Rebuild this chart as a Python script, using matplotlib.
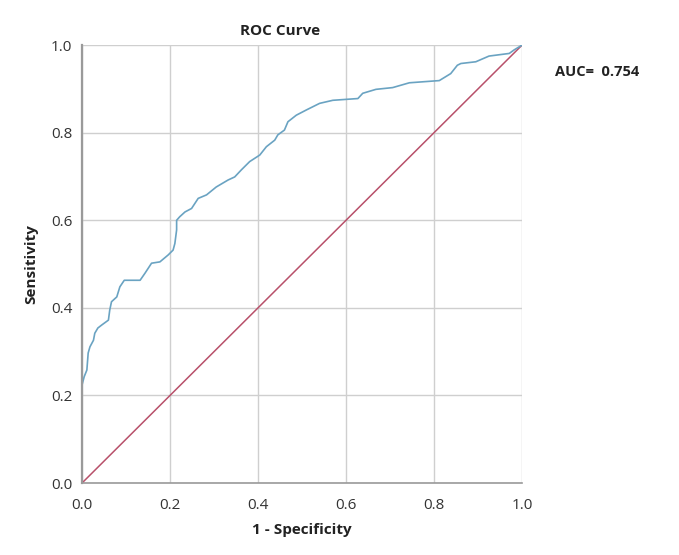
import numpy as np
import matplotlib
matplotlib.use('Agg')
import matplotlib.pyplot as plt

plt.rcParams['font.family'] = ['Open Sans', 'DejaVu Sans']

# ROC points (1 - specificity, sensitivity)
fpr = [0.0, 0.0, 0.005, 0.011, 0.014, 0.018, 0.026, 0.029, 0.036, 0.045,
       0.060, 0.063, 0.067, 0.079, 0.086, 0.096, 0.132, 0.143, 0.158, 0.177,
       0.196, 0.207, 0.211, 0.215, 0.215, 0.222, 0.234, 0.249, 0.264, 0.283,
       0.305, 0.332, 0.347, 0.362, 0.381, 0.404, 0.419, 0.438, 0.445, 0.460,
       0.468, 0.487, 0.510, 0.540, 0.570, 0.627, 0.638, 0.668, 0.706, 0.744,
       0.812, 0.838, 0.853, 0.861, 0.895, 0.925, 0.971, 0.982, 1.0]
tpr = [0.0, 0.224, 0.243, 0.258, 0.297, 0.311, 0.326, 0.342, 0.354, 0.361,
       0.372, 0.395, 0.414, 0.425, 0.448, 0.463, 0.463, 0.479, 0.502, 0.505,
       0.521, 0.532, 0.547, 0.578, 0.600, 0.608, 0.619, 0.627, 0.650, 0.658,
       0.676, 0.692, 0.699, 0.715, 0.734, 0.749, 0.768, 0.783, 0.795, 0.806,
       0.825, 0.840, 0.852, 0.867, 0.874, 0.878, 0.890, 0.899, 0.903, 0.914,
       0.919, 0.935, 0.954, 0.958, 0.962, 0.975, 0.981, 0.989, 1.0]
ref_line = [0.0, 1.0]
ticks = [0.0, 0.2, 0.4, 0.6, 0.8, 1.0]
auc = 0.754

fig = plt.figure(figsize=(6.79, 5.55), dpi=100)
ax = fig.add_axes([0.1208, 0.1297, 0.648, 0.789])

ax.plot(ref_line, ref_line, color='#b8506a', lw=1.1)
ax.plot(fpr, tpr, color='#6aa3c2', lw=1.2)

ax.set_xlim(0, 1)
ax.set_ylim(0, 1)
ax.set_xticks(ticks)
ax.set_yticks(ticks)
ax.set_xticklabels([f'{t:.1f}' for t in ticks])
ax.set_yticklabels([f'{t:.1f}' for t in ticks])
ax.tick_params(length=0, labelsize=11, colors='#333333')
ax.tick_params(axis='x', pad=11)
ax.tick_params(axis='y', pad=7)
ax.grid(True, color='#cfcfcf', lw=1.0)
ax.set_axisbelow(True)

for sp in ['top', 'right']:
    ax.spines[sp].set_visible(False)
ax.spines['left'].set_color('#9a9a9a')
ax.spines['left'].set_linewidth(1.6)
ax.spines['bottom'].set_color('#9a9a9a')
ax.spines['bottom'].set_linewidth(1.2)

ax.set_xlabel('1 - Specificity', fontsize=11, fontweight='bold', color='#222222', labelpad=7)
ax.set_ylabel('Sensitivity', fontsize=11, fontweight='bold', color='#222222', labelpad=9)

fig.text(280 / 679, 1 - 31 / 555, 'ROC Curve', ha='center', va='center',
         fontsize=11, fontweight='bold', color='#222222')
fig.text(555 / 679, 1 - 72 / 555, f'AUC=  {auc:.3f}', ha='left', va='center',
         fontsize=10.5, fontweight='bold', color='#222222')

fig.savefig('out.png', dpi=100)
